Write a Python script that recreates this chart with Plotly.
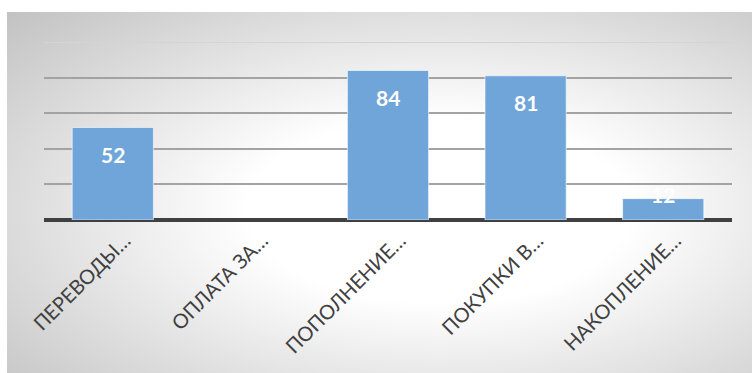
import base64
import plotly.graph_objects as go

categories = ["ПЕРЕВОДЫ…", "ОПЛАТА ЗА…", "ПОПОЛНЕНИЕ…", "ПОКУПКИ В…", "НАКОПЛЕНИЕ…"]
values = [52, None, 84, 81, 12]
label_texts = ["52", "", "84", "81", "12"]
grid_values = [20, 40, 60, 80]
top_grid = [100]

svg = """<svg xmlns='http://www.w3.org/2000/svg' width='745' height='361' viewBox='0 0 745 361' preserveAspectRatio='none'>
<defs><radialGradient id='g' cx='0.58' cy='0.55' r='0.85' gradientUnits='objectBoundingBox'>
<stop offset='0' stop-color='#ffffff'/><stop offset='0.3' stop-color='#ffffff'/>
<stop offset='1' stop-color='#bcbcbc'/></radialGradient></defs>
<rect x='0' y='0' width='745' height='361' fill='url(#g)'/></svg>"""
src = "data:image/svg+xml;base64," + base64.b64encode(svg.encode()).decode()

L, R, T, B = 44, 20, 42, 153
W, H = 752, 373
pw, ph = W - L - R, H - T - B

fig = go.Figure()
fig.add_trace(go.Bar(
    x=categories, y=values,
    marker=dict(color="#6fa5d8", line=dict(color="rgba(255,255,255,0.6)", width=1)),
    width=0.59, hoverinfo="skip",
))

for c, v, t in zip(categories, values, label_texts):
    if v is None:
        continue
    bar_px = v / 100 * ph
    shift = -27 if bar_px > 60 else 4
    fig.add_annotation(x=c, y=v, text=t, showarrow=False, yshift=shift,
                       font=dict(family="Lato", size=21, color="white", weight="bold"))

for g in top_grid:
    fig.add_shape(type="line", xref="paper", yref="y", x0=0, x1=1, y0=g, y1=g,
                  line=dict(color="#d4d4d4", width=2), layer="above")

fig.add_layout_image(dict(
    source=src, xref="paper", yref="paper",
    x=(7 - L) / pw, y=(T + ph - 12) / ph,
    sizex=(W - 7) / pw, sizey=(H - 12) / ph,
    xanchor="left", yanchor="top", sizing="stretch", layer="below",
))

fig.update_layout(
    width=W, height=H,
    margin=dict(l=L, r=R, t=T, b=B, pad=0),
    paper_bgcolor="white", plot_bgcolor="rgba(0,0,0,0)",
    showlegend=False,
    xaxis=dict(tickangle=-45, tickfont=dict(family="Lato", size=20, color="#404040"),
               showgrid=False, showline=False, ticks="", ticklabelshift=12, ticklabelstandoff=4),
    yaxis=dict(range=[0, 100], tickmode="array", tickvals=grid_values, showticklabels=False,
               showgrid=True, gridcolor="#a3a3a3", gridwidth=1.5,
               zeroline=True, zerolinecolor="#404040", zerolinewidth=4),
)

fig.write_html("out.html")
